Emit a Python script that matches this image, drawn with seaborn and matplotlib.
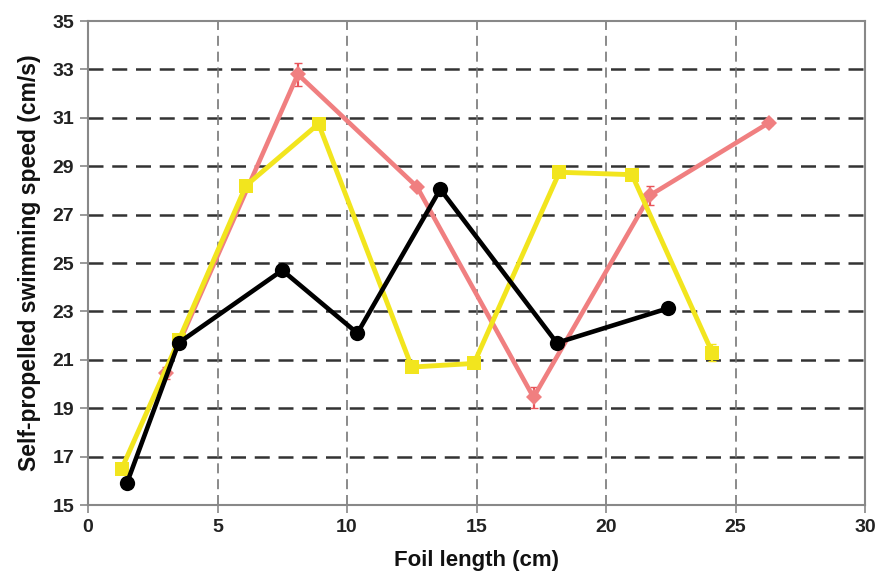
import numpy as np
import pandas as pd
import matplotlib
matplotlib.use("Agg")
import matplotlib.pyplot as plt
import seaborn as sns

# Data
black_x = [1.5, 3.5, 7.5, 10.4, 13.6, 18.1, 22.4]
black_y = [15.9, 21.7, 24.7, 22.1, 28.05, 21.7, 23.13]

yellow_x = [1.3, 3.5, 6.1, 8.9, 12.5, 14.9, 18.2, 21.0, 24.1]
yellow_y = [16.5, 21.8, 28.2, 30.75, 20.7, 20.85, 28.75, 28.65, 21.3]
yellow_err = [0.1, 0.1, 0.1, 0.15, 0.1, 0.1, 0.1, 0.1, 0.35]

red_x = [3.0, 8.1, 12.7, 17.2, 21.7, 26.3]
red_y = [20.45, 32.8, 28.15, 19.45, 27.8, 30.8]
red_err = [0.25, 0.48, 0.1, 0.43, 0.4, 0.1]

xticks = [0, 5, 10, 15, 20, 25, 30]
yticks = [15, 17, 19, 21, 23, 25, 27, 29, 31, 33, 35]

sns.set_theme(style="white")
plt.rcParams['font.family'] = ['Liberation Sans', 'DejaVu Sans']

fig = plt.figure(figsize=(8.75, 5.74), dpi=100)
ax = fig.add_axes([0.1006, 0.1202, 0.888, 0.8432])

red_c = "#F07F80"
yel_c = "#F2E51E"
blk_c = "#000000"

df_r = pd.DataFrame({"x": red_x, "y": red_y})
df_y = pd.DataFrame({"x": yellow_x, "y": yellow_y})
df_b = pd.DataFrame({"x": black_x, "y": black_y})

ax.errorbar(red_x, red_y, yerr=red_err, fmt="none", ecolor="#E8545A", elinewidth=1.6, capsize=3, zorder=3)
sns.lineplot(data=df_r, x="x", y="y", ax=ax, color=red_c, lw=3.3, marker="D", markersize=8,
             markeredgewidth=0, sort=False, zorder=3)
ax.errorbar(yellow_x, yellow_y, yerr=yellow_err, fmt="none", ecolor=yel_c, elinewidth=1.6, capsize=3, zorder=4)
sns.lineplot(data=df_y, x="x", y="y", ax=ax, color=yel_c, lw=3.5, marker="s", markersize=10,
             markeredgewidth=0, sort=False, zorder=4)
sns.lineplot(data=df_b, x="x", y="y", ax=ax, color=blk_c, lw=3.3, marker="o", markersize=11,
             markeredgewidth=0, sort=False, zorder=5)

ax.set_xlim(0, 30)
ax.set_ylim(15, 35)
ax.set_xticks(xticks)
ax.set_yticks(yticks)

for yv in yticks[1:-1]:
    ax.axhline(yv, color="#333333", lw=1.8, ls=(0, (6, 3.5)), zorder=1)
for xv in xticks[1:-1]:
    ax.axvline(xv, color="#777777", lw=1.2, ls=(0, (6, 3.5)), zorder=1)

for s in ax.spines.values():
    s.set_color("#888888")
    s.set_linewidth(1.5)

ax.tick_params(axis="both", which="major", direction="out", length=6, width=1.2,
               color="#888888", labelsize=14, pad=4, left=True, bottom=True)
for lab in ax.get_xticklabels() + ax.get_yticklabels():
    lab.set_fontweight("bold")
    lab.set_color("#222222")

ax.set_xlabel("Foil length (cm)", fontsize=16, fontweight="bold", labelpad=10, color="#111111")
ax.set_ylabel("Self-propelled swimming speed (cm/s)", fontsize=16.5, fontweight="bold", labelpad=8, color="#111111")

fig.savefig("out.png", dpi=100, facecolor="white")
